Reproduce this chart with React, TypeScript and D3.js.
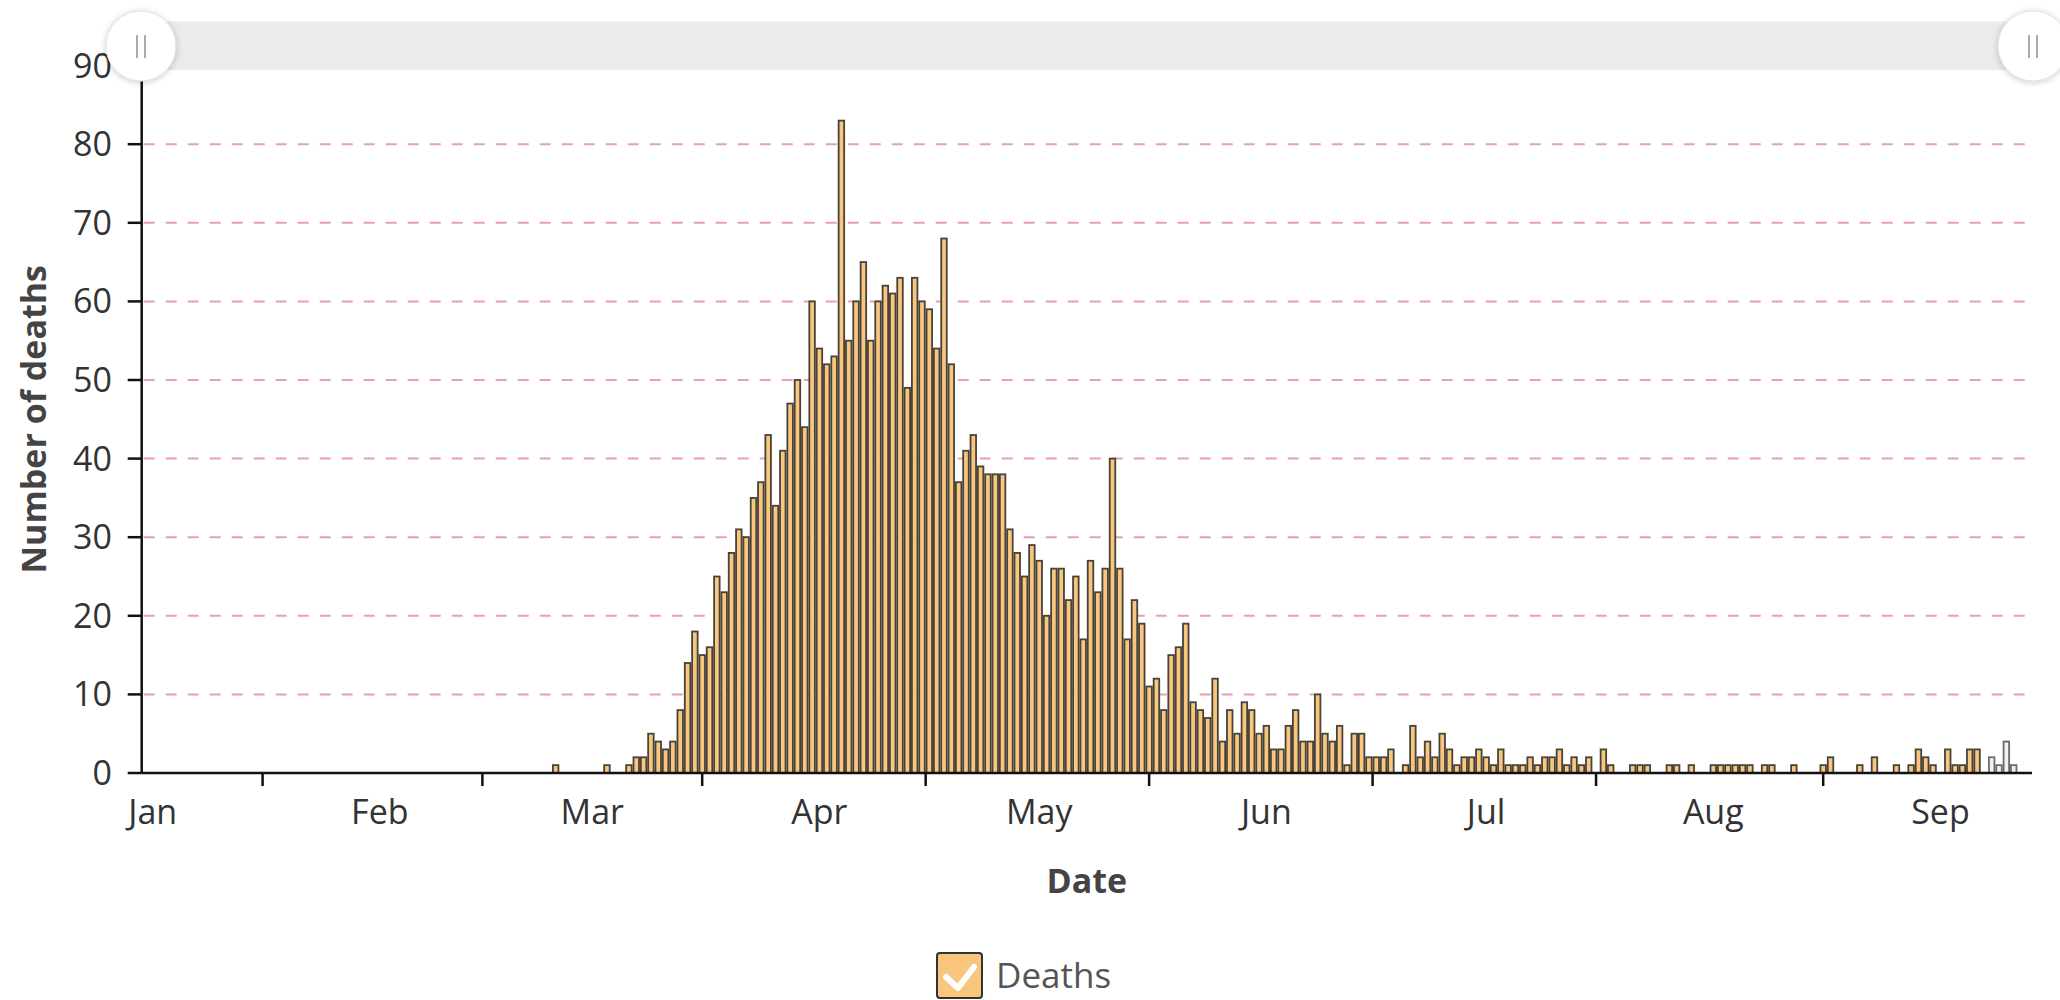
import React from "react";
import * as d3 from "d3";

// daily deaths, one array per month (index 0 = day 1)
const janDeaths = [
  0, 0, 0, 0, 0, 0, 0, 0, 0, 0, 0, 0, 0, 0, 0, 0, 0, 0, 0, 0, 0, 0, 0, 0, 0, 0, 0, 0, 0, 0, 0,
];
const febDeaths = [
  0, 0, 0, 0, 0, 0, 0, 0, 0, 0, 0, 0, 0, 0, 0, 0, 0, 0, 0, 0, 0, 0, 0, 0, 1, 0, 0, 0, 0,
];
const marDeaths = [
  0, 0, 1, 0, 0, 1, 2, 2, 5, 4, 3, 4, 8, 14, 18, 15, 16, 25, 23, 28, 31, 30, 35, 37, 43, 34, 41, 47, 50, 44, 60,
];
const aprDeaths = [
  54, 52, 53, 83, 55, 60, 65, 55, 60, 62, 61, 63, 49, 63, 60, 59, 54, 68, 52, 37, 41, 43, 39, 38, 38, 38, 31, 28, 25, 29,
];
const mayDeaths = [
  27, 20, 26, 26, 22, 25, 17, 27, 23, 26, 40, 26, 17, 22, 19, 11, 12, 8, 15, 16, 19, 9, 8, 7, 12, 4, 8, 5, 9, 8, 5,
];
const junDeaths = [
  6, 3, 3, 6, 8, 4, 4, 10, 5, 4, 6, 1, 5, 5, 2, 2, 2, 3, 0, 1, 6, 2, 4, 2, 5, 3, 1, 2, 2, 3,
];
const julDeaths = [
  2, 1, 3, 1, 1, 1, 2, 1, 2, 2, 3, 1, 2, 1, 2, 0, 3, 1, 0, 0, 1, 1, 1, 0, 0, 1, 1, 0, 1, 0, 0,
];
const augDeaths = [
  1, 1, 1, 1, 1, 1, 0, 1, 1, 0, 0, 1, 0, 0, 0, 1, 2, 0, 0, 0, 1, 0, 2, 0, 0, 1, 0, 1, 3, 2, 1,
];
const sepDeaths = [0, 3, 1, 1, 3, 3, 0, 2, 1, 4, 1];

const monthlyDeaths = [
  janDeaths, febDeaths, marDeaths, aprDeaths, mayDeaths, junDeaths, julDeaths, augDeaths, sepDeaths,
];
const monthLabels = ["Jan", "Feb", "Mar", "Apr", "May", "Jun", "Jul", "Aug", "Sep"];
const yTicks = [0, 10, 20, 30, 40, 50, 60, 70, 80, 90];
const provisionalFrom = Date.UTC(2020, 8, 8);

const W = 2060;
const H = 1000;
const font = "'Open Sans', sans-serif";

type Row = { date: Date; value: number };

const rows: Row[] = [];
monthlyDeaths.forEach((arr, m) => {
  arr.forEach((v, i) => rows.push({ date: new Date(Date.UTC(2020, m, i + 1)), value: v }));
});

export default function App() {
  const x = d3
    .scaleUtc()
    .domain([new Date(Date.UTC(2019, 11, 31)), new Date(Date.UTC(2020, 8, 14))])
    .range([141.7, 2032]);
  const y = d3.scaleLinear().domain([0, 90]).range([773, 65.6]);
  const dayW = x(new Date(Date.UTC(2020, 0, 2))) - x(new Date(Date.UTC(2020, 0, 1)));

  const monthStarts = d3.utcMonth.range(new Date(Date.UTC(2020, 0, 1)), new Date(Date.UTC(2020, 9, 1)));
  const tickXs = monthStarts
    .slice(0, -1)
    .map((m, i) => (x(m) + x(monthStarts[i + 1])) / 2)
    .filter((t) => t < 2032);

  const [x0, x1] = x.range();
  const y0 = y(0);

  return (
    <svg
      width={W}
      height={H}
      style={{ position: "absolute", left: 0, top: 0, background: "#fff" }}
      fontFamily={font}
    >
      <defs>
        <filter id="hshadow" x="-50%" y="-50%" width="200%" height="200%">
          <feDropShadow dx="0" dy="1" stdDeviation="3" floodColor="#000" floodOpacity="0.22" />
        </filter>
      </defs>

      {/* grid */}
      {yTicks
        .filter((v) => v > 0 && v < 90)
        .map((v) => (
          <line
            key={"g" + v}
            x1={x0 + 2}
            x2={x1}
            y1={y(v)}
            y2={y(v)}
            stroke="#e6a0b2"
            strokeWidth={2}
            strokeDasharray="11 11"
          />
        ))}

      {/* bars */}
      {rows
        .filter((d) => d.value > 0)
        .map((d, i) => {
          const prov = d.date.getTime() >= provisionalFrom;
          return (
            <rect
              key={"b" + i}
              x={x(d.date) + 0.9}
              y={y(d.value)}
              width={dayW - 1.8}
              height={y0 - y(d.value)}
              fill={prov ? "#f1f1f1" : "#f8c77d"}
              stroke={prov ? "#6a6a6a" : "#48423a"}
              strokeWidth={1.8}
            />
          );
        })}

      {/* y axis */}
      <line x1={x0} x2={x0} y1={y0} y2={y(90)} stroke="#111" strokeWidth={2.5} />
      {yTicks.map((v) => (
        <g key={"y" + v}>
          <line x1={x0 - 14} x2={x0} y1={y(v)} y2={y(v)} stroke="#111" strokeWidth={2.5} />
          <text x={112} y={y(v)} dy="0.35em" textAnchor="end" fontSize={34} fill="#333">
            {v}
          </text>
        </g>
      ))}

      {/* x axis */}
      <line x1={x0} x2={x1} y1={y0} y2={y0} stroke="#111" strokeWidth={2.5} />
      {tickXs.map((t, i) => (
        <line key={"t" + i} x1={t} x2={t} y1={y0} y2={y0 + 13} stroke="#111" strokeWidth={2.5} />
      ))}
      {monthStarts.slice(0, monthLabels.length).map((m, i) => (
        <text key={"m" + i} x={x(m) + dayW / 2} y={824} textAnchor="middle" fontSize={34} fill="#333">
          {monthLabels[i]}
        </text>
      ))}

      {/* axis titles */}
      <text x={(x0 + x1) / 2} y={893} textAnchor="middle" fontSize={34} fontWeight="bold" fill="#444">
        Date
      </text>
      <text
        transform={`translate(46,${(y0 + y(90)) / 2}) rotate(-90)`}
        textAnchor="middle"
        fontSize={34}
        fontWeight="bold"
        fill="#444"
      >
        Number of deaths
      </text>

      {/* zoom slider */}
      <rect x={x0} y={21.5} width={2032 - x0} height={48.5} fill="#ebebeb" />
      {[141, 2033].map((cx, i) => (
        <g key={"h" + i}>
          <circle cx={cx} cy={46} r={35} fill="#fff" stroke="#e2e2e2" strokeWidth={1} filter="url(#hshadow)" />
          <line x1={cx - 4} x2={cx - 4} y1={35} y2={58} stroke="#aaa" strokeWidth={2} />
          <line x1={cx + 4} x2={cx + 4} y1={35} y2={58} stroke="#aaa" strokeWidth={2} />
        </g>
      ))}

      {/* legend */}
      <rect x={937} y={953} width={45} height={45} rx={3} fill="#f8c77d" stroke="#333" strokeWidth={2} />
      <path
        d="M946 977 L958 988 L974 967"
        fill="none"
        stroke="#fff"
        strokeWidth={6}
        strokeLinecap="round"
        strokeLinejoin="round"
      />
      <text x={996} y={988} fontSize={35} fill="#555">
        Deaths
      </text>
    </svg>
  );
}
